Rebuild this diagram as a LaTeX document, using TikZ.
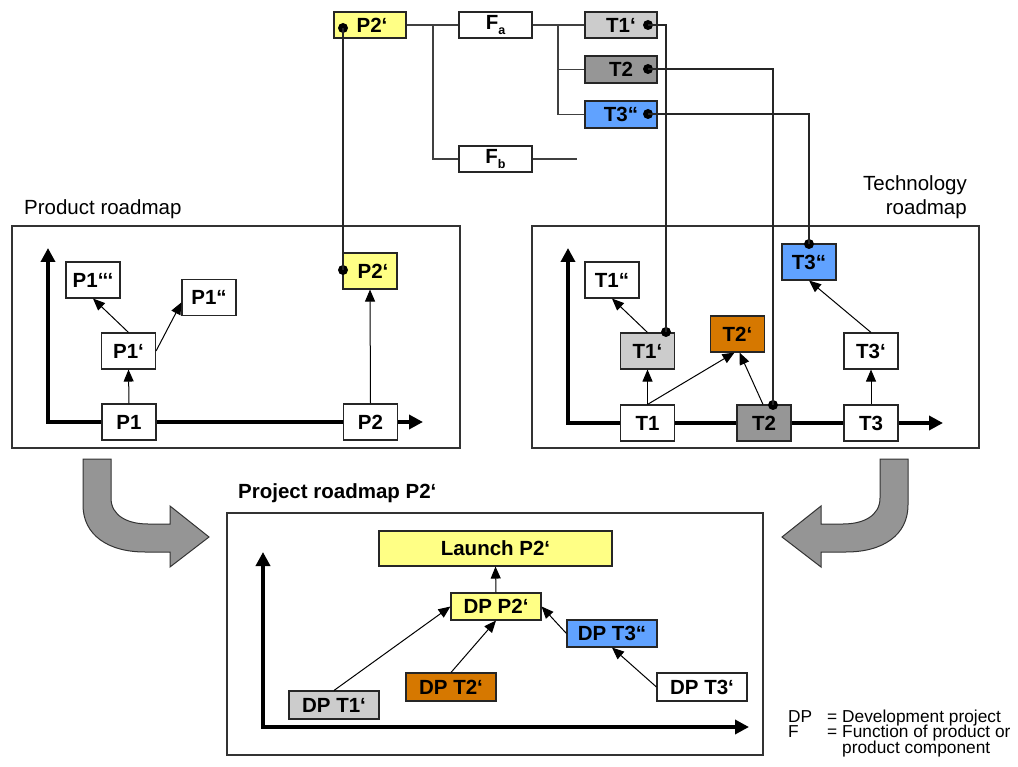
\documentclass[tikz,border=0pt]{standalone}
\usepackage{fontspec}
\setmainfont{Liberation Sans}
\usetikzlibrary{arrows.meta,calc}

\definecolor{padyellow}{HTML}{FFFF85}
\definecolor{padlight}{HTML}{CCCCCC}
\definecolor{paddark}{HTML}{969696}
\definecolor{padblue}{HTML}{60A2FF}
\definecolor{padorange}{HTML}{D67800}
\definecolor{bendgray}{HTML}{959595}

\newcommand{\lblfont}{\bfseries\fontsize{20.5}{24}\selectfont}
\newcommand{\plainfont}{\fontsize{20.5}{24}\selectfont}
\newcommand{\keyfont}{\fontsize{17.3}{16}\selectfont}
\newcommand{\subidx}[1]{\raisebox{-5pt}{\fontsize{12.5}{12}\selectfont #1}}

\begin{document}
\begin{tikzpicture}[x=1pt,y=-1pt,
  card/.style={draw=black!85, line width=1.1pt, fill=white, inner sep=0pt,
               minimum width=54pt, minimum height=36pt, font=\lblfont},
  topcard/.style={card, minimum width=72pt, minimum height=26pt},
  dpcard/.style={card, minimum width=90pt, minimum height=28pt},
  roadframe/.style={draw=black!80, line width=1.1pt},
  timeaxis/.style={line width=3.5pt,
               arrows={Triangle[length=14pt,width=14pt]-Triangle[length=14pt,width=14pt]}},
  link/.style={line width=1pt, arrows={-Triangle[length=12pt,width=10pt]}},
  treeline/.style={draw=black!75, line width=1.6pt},
  wire/.style={draw=black!85, line width=1.1pt},
  pindot/.style={circle, fill=black, inner sep=0pt, minimum size=10pt},
  bentarrow/.style={fill=bendgray, draw=black!80, line width=1pt},
  keytext/.style={anchor=base west, inner sep=0pt, font=\keyfont}
]
\useasboundingbox (0,0) rectangle (1018,767);

% ---------- frames ----------
\draw[roadframe] (12,226) rectangle (460,448);
\draw[roadframe] (532,226) rectangle (979,448);
\draw[roadframe] (227,513) rectangle (763,755);

\node[anchor=west, font=\plainfont, inner sep=0pt] (prlabel) at (24,209) {Product roadmap};
\node[anchor=east, align=right, font=\plainfont, inner sep=0pt] (trlabel) at (967,197) {Technology\\roadmap};
\node[anchor=west, font=\lblfont, inner sep=0pt] (pjlabel) at (238,493) {Project roadmap P2‘};

% ---------- axes ----------
\coordinate (pa0) at (48,422);
\coordinate (pa1) at (48,248);
\coordinate (pa2) at (423,422);
\draw[timeaxis] (pa1) -- (pa0) -- (pa2);

\coordinate (ta0) at (568,423);
\coordinate (ta1) at (568,248);
\coordinate (ta2) at (943,423);
\draw[timeaxis] (ta1) -- (ta0) -- (ta2);

\coordinate (ja0) at (263,727);
\coordinate (ja1) at (263,552);
\coordinate (ja2) at (749,727);
\draw[timeaxis] (ja1) -- (ja0) -- (ja2);

% ---------- function tree ----------
\node[topcard, fill=padyellow] (P2top) at (370,25) {\hspace*{4pt}P2‘};
\node[topcard, minimum width=73pt] (Fa) at (495.5,25) {F\subidx{a}};
\node[topcard, minimum width=73pt] (Fb) at (495.5,159) {F\subidx{b}};
\node[topcard, fill=padlight] (T1top) at (621,25) {T1‘};
\node[topcard, fill=paddark, minimum height=27pt] (T2top) at (621,69.5) {T2};
\node[topcard, fill=padblue, minimum height=27pt] (T3top) at (621,114.5) {T3“};

\coordinate (jA) at (433,25);
\coordinate (jB) at (558,25);
\coordinate (fbend) at (577,159);
\draw[treeline] (P2top.east) -- (Fa.west);
\draw[treeline] (jA) |- (Fb.west);
\draw[treeline] (Fb.east) -- (fbend);
\draw[treeline] (Fa.east) -- (T1top.west);
\draw[treeline] (jB) |- (T2top.west);
\draw[treeline] (jB) |- (T3top.west);

% ---------- product roadmap ----------
\node[card] (P1) at (129,422) {P1};
\node[card] (P2) at (370.5,422) {P2};
\node[card] (P1a) at (128.5,351) {P1‘};
\node[card] (P1c) at (93,280) {P1‘‘‘};
\node[card] (P1b) at (209,297.5) {P1“};
\node[card, fill=padyellow] (P2a) at (370,271) {\hspace*{6pt}P2‘};

\draw[link] (P1.north) -- (P1a.south);
\draw[link] (P1a.north) -- (P1c.south);
\draw[link] (P1a.east) -- (P1b.190);
\draw[link] (P2.north) -- (P2a.south);

% ---------- technology roadmap ----------
\node[card] (T1) at (647.5,423) {T1};
\node[card, fill=paddark] (T2) at (764,423) {T2};
\node[card] (T3) at (871,423) {T3};
\node[card, fill=padlight] (T1a) at (647.5,351) {T1‘};
\node[card] (T1b) at (612,280) {T1“};
\node[card, fill=padorange] (T2a) at (737.5,334) {T2‘};
\node[card] (T3a) at (871,351) {T3‘};
\node[card, fill=padblue] (T3b) at (809,262) {T3“};

\draw[link] (T1.north) -- ($(T2a.south)+(-3,0)$);
\draw[link] (T1.north) -- (T1a.south);
\draw[link] ($(T2.north)+(-1,0)$) -- ($(T2a.south)+(2,0)$);
\draw[link] (T1a.north) -- (T1b.south);
\draw[link] (T3.north) -- (T3a.south);
\draw[link] (T3a.north) -- (T3b.south);

% ---------- cross links with pins ----------
\node[pindot] (dP2top) at (343,28) {};
\node[pindot] (dT1top) at (648,25) {};
\node[pindot] (dT2top) at (648,69) {};
\node[pindot] (dT3top) at (648,114) {};
\node[pindot] (dP2rm) at (343,270) {};
\node[pindot] (dT1rm) at (666,332) {};
\node[pindot] (dT2rm) at (773,405) {};
\node[pindot] (dT3rm) at (809,244) {};

\draw[wire] (dP2top.center) -- (dP2rm.center);
\draw[wire] (dT1top.center) -| (dT1rm.center);
\draw[wire] (dT2top.center) -| (dT2rm.center);
\draw[wire] (dT3top.center) -| (dT3rm.center);

% ---------- project roadmap ----------
\node[card, minimum width=233pt, minimum height=35pt, fill=padyellow] (Launch) at (495.5,548.5) {Launch P2‘};
\node[dpcard, minimum height=27pt, fill=padyellow] (DPP2) at (496,606.5) {DP P2‘};
\node[dpcard, fill=padlight] (DPT1) at (334,705) {DP T1‘};
\node[dpcard, fill=padorange] (DPT2) at (451,687) {DP T2‘};
\node[dpcard, minimum height=27pt, fill=padblue] (DPT3b) at (612,633.5) {DP T3“};
\node[dpcard] (DPT3a) at (702,687) {DP T3‘};

\draw[link] (DPP2.north) -- (Launch.south);
\draw[link] (DPT1.north) -- (DPP2.west);
\draw[link] (DPT2.north) -- (DPP2.south);
\draw[link] (DPT3b.west) -- (DPP2.east);
\draw[link] (DPT3a.west) -- (DPT3b.south);

% ---------- bent transfer arrows ----------
\draw[bentarrow] (83,459) -- (111,459) -- (111,498)
  .. controls (111,516) and (128,524) .. (148,524) -- (170,524) -- (170,506)
  -- (209,537) -- (170,567) -- (170,552) -- (145,552)
  .. controls (108,552) and (83,535) .. (83,505) -- cycle;
\draw[bentarrow] (908,459) -- (880,459) -- (880,498)
  .. controls (880,516) and (863,524) .. (843,524) -- (821,524) -- (821,506)
  -- (782,537) -- (821,567) -- (821,552) -- (846,552)
  .. controls (883,552) and (908,535) .. (908,505) -- cycle;

% ---------- key ----------
\node[keytext] (kDP) at (788,722) {DP};
\node[keytext] (kDPeq) at (827,722) {=};
\node[keytext] (kDPtx) at (842,722) {Development project};
\node[keytext] (kF) at (788,737.5) {F};
\node[keytext] (kFeq) at (827,737.5) {=};
\node[keytext] (kFtx) at (842,737.5) {Function of product or};
\node[keytext] (kFtx2) at (842,753) {product component};
\end{tikzpicture}
\end{document}
